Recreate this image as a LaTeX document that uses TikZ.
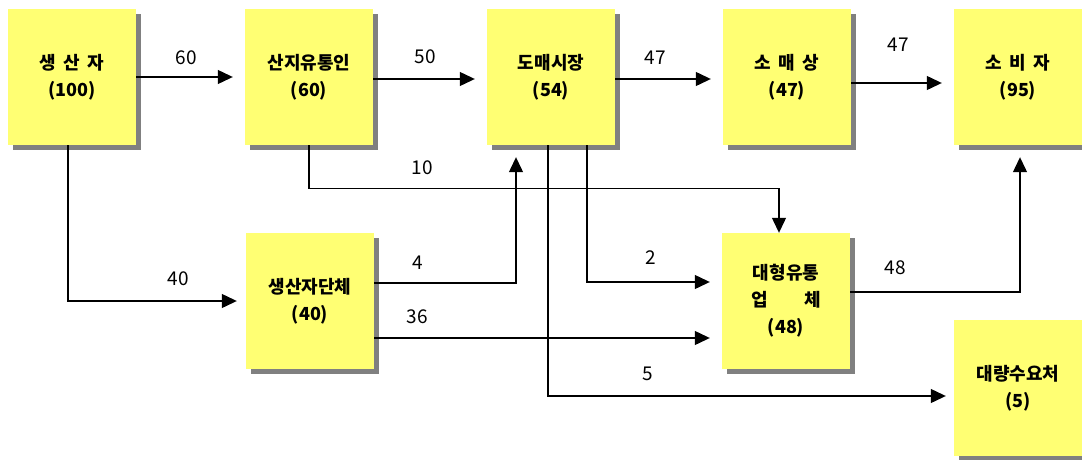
\documentclass[tikz,border=0pt]{standalone}
\usepackage{fontspec}
\setmainfont{Noto Sans CJK KR}
\usetikzlibrary{arrows.meta,shadows}
\definecolor{Pad}{HTML}{FFFF73}
\definecolor{Shade}{HTML}{808080}

\tikzset{
  stage/.style={fill=Pad, minimum width=128pt, minimum height=136pt, inner sep=0pt,
    align=center, font=\fontsize{18}{27}\selectfont\bfseries,
    drop shadow={shadow xshift=5pt, shadow yshift=-5pt, fill=Shade, opacity=1}},
  flow/.style={line width=1.2pt, -{Triangle[length=15pt,width=14pt]}, shorten >=12pt},
  qty/.style={font=\fontsize{19}{19}\selectfont}
}

\begin{document}
\begin{tikzpicture}[x=1pt,y=-1pt]
  \useasboundingbox (0,0) rectangle (1082,460);

  % top row
  \node[stage] (prod)   at (72,77)   {생\hspace{.4em}산\hspace{.4em}자\\(100)};
  \node[stage] (colle)  at (309,77)  {산지유통인\\(60)};
  \node[stage] (whole)  at (551,77)  {도매시장\\(54)};
  \node[stage] (retail) at (787,77)  {소\hspace{.4em}매\hspace{.4em}상\\(47)};
  \node[stage] (cons)   at (1018,77) {소\hspace{.4em}비\hspace{.4em}자\\(95)};

  % lower rows
  \node[stage] (assoc) at (310,301)  {생산자단체\\(40)};
  \node[stage] (large) at (786,301)  {대형유통\\업\hspace{2em}체\\(48)};
  \node[stage] (bulk)  at (1018,388) {대량수요처\\(5)};

  % flows
  \draw[flow] (prod.east) -- (colle.west);
  \draw[flow] ([yshift=-2pt]colle.east) -- ([yshift=-2pt]whole.west);
  \draw[flow] ([yshift=-2pt]whole.east) -- ([yshift=-2pt]retail.west);
  \draw[flow] ([yshift=-6pt]retail.east) -- ([yshift=-6pt]cons.west);
  \draw[flow, shorten >=0pt] (colle.south) -- ++(0,43) -| ([xshift=-7pt]large.north);
  \draw[flow, shorten >=9pt] ([xshift=-4pt]prod.south) |- (assoc.west);
  \draw[flow] ([yshift=18pt]assoc.east) -| ([xshift=-35pt]whole.south);
  \draw[flow] ([yshift=-37pt]assoc.east) -- ([yshift=-37pt]large.west);
  \draw[flow] ([xshift=36pt]whole.south) |- ([yshift=19pt]large.west);
  \draw[flow, shorten >=8pt] ([xshift=-3pt]whole.south) |- ([yshift=-8pt]bulk.west);
  \draw[flow] ([yshift=9pt]large.east) -| ([xshift=2pt]cons.south);

  % quantities
  \node[qty] (q60)  at (186,58)  {60};
  \node[qty] (q50)  at (425,57)  {50};
  \node[qty] (q47a) at (655,58)  {47};
  \node[qty] (q47b) at (898,45)  {47};
  \node[qty] (q10)  at (422,168) {10};
  \node[qty] (q40)  at (178,279) {40};
  \node[qty] (q4)   at (418,263) {4};
  \node[qty] (q36)  at (417,317) {36};
  \node[qty] (q2)   at (651,258) {2};
  \node[qty] (q48)  at (895,268) {48};
  \node[qty] (q5)   at (648,374) {5};
\end{tikzpicture}
\end{document}
